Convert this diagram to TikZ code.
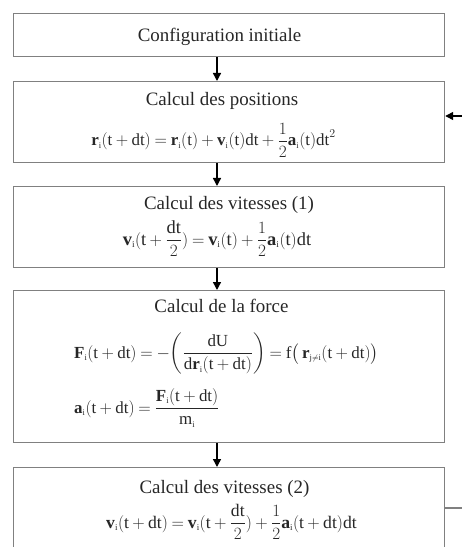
\documentclass[tikz,border=0pt]{standalone}
\usepackage{amsmath}
\usepackage{fontspec}
\setmainfont{Liberation Serif}
\usetikzlibrary{arrows.meta}
\newcommand\vecb[1]{\mathbf{#1}_{\scriptscriptstyle\mathrm{i}}}
\newcommand\tdt{\mathrm{(t}+\mathrm{dt)}}
\newcommand\eqspacing{\thickmuskip=4mu\relax\medmuskip=3.5mu\relax}
\begin{document}
\begin{tikzpicture}[x=1bp,y=-1bp,
  box/.style={draw=black!50,line width=1.2bp,minimum width=431bp,inner sep=0pt,anchor=north west},
  txt/.style={inner sep=0pt,anchor=base,font=\fontsize{19}{22}\selectfont,text=black!85},
  eq/.style={inner sep=0pt,anchor=base,font=\fontsize{17}{20}\selectfont\eqspacing,text=black!85},
  link/.style={-{Triangle[length=8bp,width=8bp]},line width=1.4bp,black},
  loop/.style={line width=1.2bp,black!50}]
\useasboundingbox (0,0) rectangle (462,547);
\clip (0,0) rectangle (462,547);
\coordinate (ax) at (217,0);
\node[box,minimum height=43bp] (b1) at (13,13) {};
\node[box,minimum height=81bp] (b2) at (13,81) {};
\node[box,minimum height=81bp] (b3) at (13,186) {};
\node[box,minimum height=152bp] (b4) at (13,290) {};
\node[box,minimum height=120bp] (b5) at (13,467) {};
\draw[link] (b1.south -| ax) -- (b2.north -| ax);
\draw[link] (b2.south -| ax) -- (b3.north -| ax);
\draw[link] (b3.south -| ax) -- (b4.north -| ax);
\draw[link] (b4.south -| ax) -- (b5.north -| ax);
\coordinate (inR) at (462,116);
\coordinate (outR) at (462,508);
\draw[link] (inR) -- (inR -| b2.east);
\draw[loop] (outR -| b5.east) -- (outR);
\node[txt] (t1) at (219.5,42) {Configuration initiale};
\node[txt] (t2) at (222,106) {Calcul des positions};
\node[eq] (e2) at (213.5,146) {$\vecb{r}\tdt = \vecb{r}\mathrm{(t)} + \vecb{v}\mathrm{(t)dt} + \dfrac{1}{2}\vecb{a}\mathrm{(t)dt}^{2}$};
\node[txt] (t3) at (229,210) {Calcul des vitesses (1)};
\node[eq,font=\fontsize{18.5}{21}\selectfont\eqspacing] (e3) at (217,245) {$\vecb{v}\mathrm{(t}+\dfrac{\mathrm{dt}}{2}\mathrm{)} = \vecb{v}\mathrm{(t)} + \dfrac{1}{2}\vecb{a}\mathrm{(t)dt}$};
\node[txt] (t4) at (221.5,312) {Calcul de la force};
\node[eq,anchor=base west] (e4a) at (74,358) {$\vecb{F}\tdt = {-}\!\left(\dfrac{\mathrm{dU}}{\mathrm{d}\vecb{r}\tdt}\right) = \mathrm{f}\bigl(\,\mathbf{r}_{\scriptscriptstyle\mathrm{j}\neq\mathrm{i}}\tdt\bigr)$};
\node[eq,anchor=base west] (e4b) at (74,413) {$\vecb{a}\tdt = \dfrac{\vecb{F}\tdt}{\mathrm{m}_{\scriptscriptstyle\mathrm{i}}}$};
\node[txt] (t5) at (224.5,493) {Calcul des vitesses (2)};
\node[eq,font=\fontsize{17.7}{21}\selectfont\eqspacing] (e5) at (231.5,528) {$\vecb{v}\tdt = \vecb{v}\mathrm{(t}+\dfrac{\mathrm{dt}}{2}\mathrm{)} + \dfrac{1}{2}\vecb{a}\tdt\mathrm{dt}$};
\end{tikzpicture}
\end{document}
